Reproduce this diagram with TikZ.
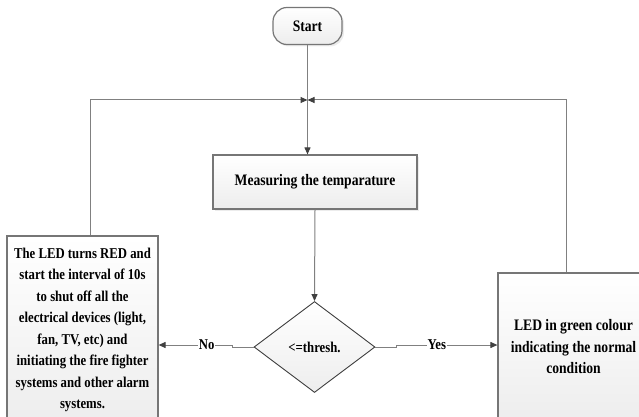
\documentclass[tikz,border=0pt]{standalone}
\usepackage{fontspec}
\setmainfont{Liberation Serif}[FakeStretch=0.85]
\usetikzlibrary{shapes.geometric,arrows.meta,shadows,calc}
\definecolor{linegray}{HTML}{808080}
\definecolor{boxgray}{HTML}{767676}
\definecolor{tipgray}{HTML}{404040}
\begin{document}
\begin{tikzpicture}[x=1pt,y=-1pt,
  box/.style={draw=boxgray,line width=1.2pt,top color=white,bottom color=gray!14,
    font=\bfseries\fontsize{15}{21.5}\selectfont,align=center,inner sep=0pt},
  shad/.style={drop shadow={opacity=0.15,shadow xshift=2pt,shadow yshift=-2pt}},
  conn/.style={draw=linegray,line width=1pt},
  arr/.style={conn,-{Triangle[length=7pt,width=6pt,fill=tipgray,color=tipgray]}},
  lbl/.style={fill=white,inner sep=1pt,font=\bfseries\fontsize{15}{18}\selectfont}]
\useasboundingbox (0,0) rectangle (639,417);

\node[box,shad,rounded corners=14pt,minimum width=69pt,minimum height=37pt,
  font=\bfseries\fontsize{16}{20}\selectfont] (start) at (307.5,26) {Start};
\node[box,shad,minimum width=204pt,minimum height=54pt,
  font=\bfseries\fontsize{16}{20}\selectfont] (meas) at (315,182) {Measuring the temparature};
\node[box,shape=diamond,draw=tipgray,line width=0.9pt,minimum width=121pt,
  minimum height=91pt,aspect=1.33] (dec) at (314.5,347) {<=thresh.};
\node[box,minimum width=151pt,minimum height=188pt] (left) at (82.5,330)
  {The LED turns RED and\\start the interval of 10s\\to shut off all the\\electrical devices (light,\\fan, TV, etc) and\\initiating the fire fighter\\systems and other alarm\\systems.};
\node[box,minimum width=151pt,minimum height=148pt,
  font=\bfseries\fontsize{16}{21.5}\selectfont] (right) at (573.5,347)
  {LED in green colour\\indicating the normal\\condition};

\coordinate (top) at (0,100);
\coordinate (ny) at (0,345);

\draw[arr] (start.south) -- (start.south |- meas.north);
\draw[arr] (meas.south) -- (dec.north);

\draw[conn] (dec.west) -- ++(-21,0) -- ++(0,-2) coordinate (nb);
\draw[arr] (nb) -- (left.east |- ny) node[lbl,pos=0.35] {No};
\draw[conn] (dec.east) -- ++(21,0) -- ++(0,-2) coordinate (yb);
\draw[arr] (yb) -- (right.west |- ny) node[lbl,pos=0.4] {Yes};

\draw[arr] ($(left.north)+(7.5,0)$) |- (start.south |- top);
\draw[arr] ($(right.north)+(-7.5,0)$) |- (start.south |- top);
\end{tikzpicture}
\end{document}
